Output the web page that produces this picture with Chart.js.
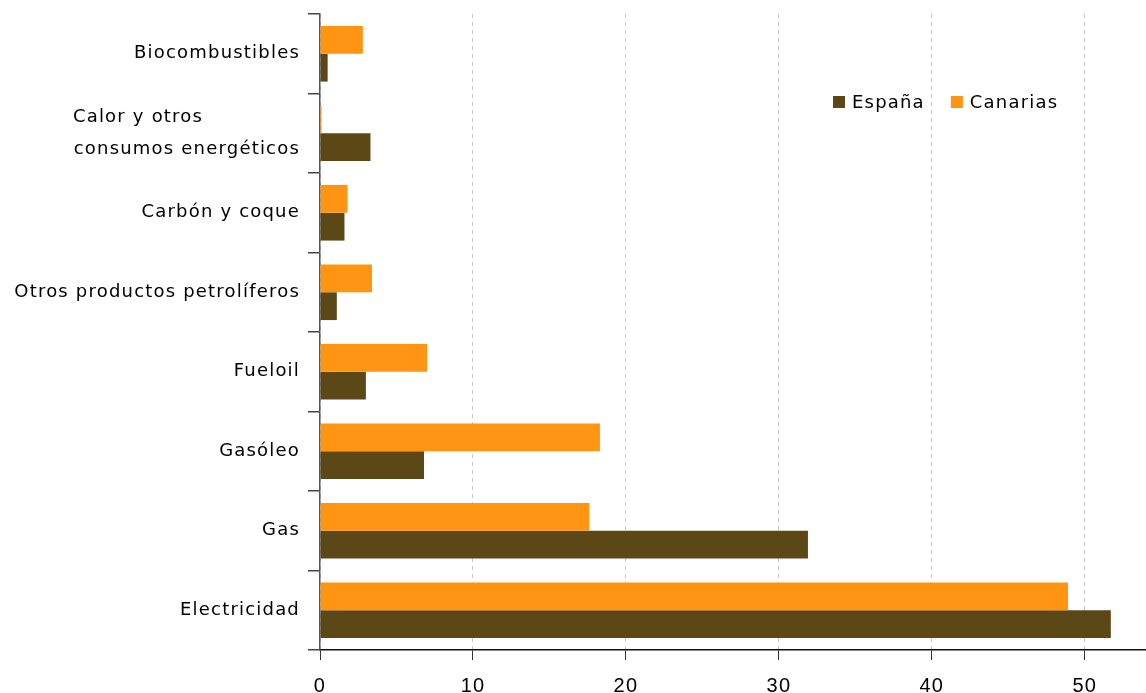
<!DOCTYPE html>
<html><head><meta charset="utf-8">
<script src="https://cdn.jsdelivr.net/npm/chart.js@4/dist/chart.umd.min.js"></script>
<style>html,body{margin:0;padding:0;background:#fff}#wrap{width:1146px;height:693px;position:relative}</style>
</head><body><div id="wrap"><canvas id="c" width="1146" height="693"></canvas></div>
<script>
const categories = ["Biocombustibles", ["Calor y otros", "consumos energéticos"], "Carbón y coque", "Otros productos petrolíferos", "Fueloil", "Gasóleo", "Gas", "Electricidad"];
const canarias = [2.8, 0.1, 1.8, 3.4, 7.0, 18.3, 17.6, 48.9];
const espana = [0.5, 3.3, 1.6, 1.1, 3.0, 6.8, 31.9, 51.7];
const xTicks = [0, 10, 20, 30, 40, 50];
const FONT = "DejaVu Sans";
const SPACING = '1.2px';

// pad shorter lines of a multi-line label so the lines start at the same x (left aligned block)
const mctx = document.createElement('canvas').getContext('2d');
mctx.font = "18px '" + FONT + "'";
mctx.letterSpacing = SPACING;
function leftAlignLines(lbl) {
  if (!Array.isArray(lbl)) return lbl;
  const w = Math.max(...lbl.map(s => mctx.measureText(s).width));
  const sp = mctx.measureText(' ').width;
  return lbl.map(s => s + ' '.repeat(Math.max(0, Math.round((w - mctx.measureText(s).width) / sp))));
}

const spacingPlugin = {
  id: 'spacing',
  beforeUpdate(chart) { chart.ctx.letterSpacing = SPACING; },
  beforeDraw(chart) { chart.ctx.letterSpacing = SPACING; }
};

const legendPlugin = {
  id: 'customLegend',
  afterDraw(chart) {
    const ctx = chart.ctx;
    const items = [chart.data.datasets[1], chart.data.datasets[0]];
    let x = 833, y = 102;
    ctx.save();
    ctx.font = "18px '" + FONT + "'";
    ctx.letterSpacing = SPACING;
    ctx.textBaseline = 'middle';
    ctx.textAlign = 'left';
    items.forEach(ds => {
      ctx.fillStyle = ds.backgroundColor;
      ctx.fillRect(x, y - 6, 12, 12);
      ctx.fillStyle = '#000';
      ctx.fillText(ds.label, x + 19, y + 1);
      x += 19 + ctx.measureText(ds.label).width + 26;
    });
    ctx.restore();
  }
};

new Chart(document.getElementById('c'), {
  type: 'bar',
  data: {
    labels: categories,
    datasets: [
      { label: 'Canarias', data: canarias, backgroundColor: '#FF9512', categoryPercentage: 0.7, barPercentage: 1.0 },
      { label: 'España', data: espana, backgroundColor: '#5C4716', categoryPercentage: 0.7, barPercentage: 1.0 }
    ]
  },
  options: {
    indexAxis: 'y',
    responsive: false,
    animation: false,
    layout: { padding: { top: 14, right: 0, left: 0, bottom: 0 } },
    plugins: { legend: { display: false }, tooltip: { enabled: false } },
    scales: {
      x: {
        min: 0, max: 54,
        afterBuildTicks: s => { s.ticks = xTicks.map(v => ({ value: v })); },
        afterFit: s => { s.height = 43; s.paddingLeft = 0; s.paddingRight = 0; },
        border: { color: '#111', width: 1.5, dash: [4, 4] },
        grid: { color: '#c8c8c8', tickBorderDash: [], tickColor: '#333', tickLength: 10, lineWidth: 1 },
        ticks: { color: '#000', font: { family: 'Liberation Sans', size: 20 }, padding: 14 }
      },
      y: {
        offset: true,
        afterFit: s => { s.width = 320; s.paddingTop = 0; s.paddingBottom = 0; },
        border: { color: '#555', width: 1.5 },
        grid: { offset: true, drawOnChartArea: false, tickColor: '#444', tickLength: 12, lineWidth: 1.5 },
        ticks: {
          color: '#000', font: { family: FONT, size: 18, lineHeight: 1.75 }, padding: 8,
          callback: function (v) { return leftAlignLines(categories[v]); }
        }
      }
    }
  },
  plugins: [spacingPlugin, legendPlugin]
});
</script></body></html>
